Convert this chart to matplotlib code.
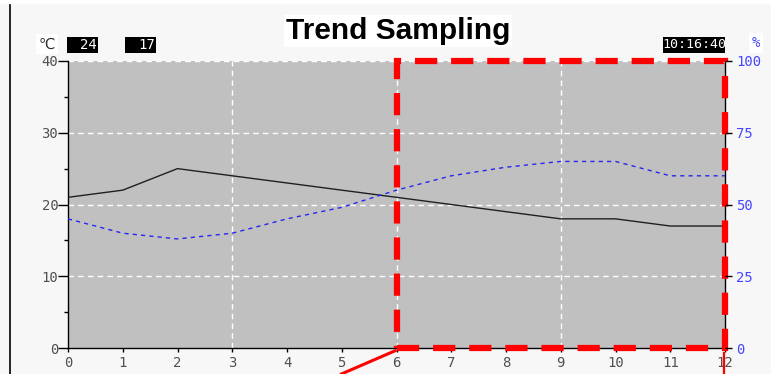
import matplotlib
matplotlib.use("Agg")
import matplotlib.pyplot as plt
from matplotlib.patches import Rectangle
from matplotlib.lines import Line2D

plt.rcParams['lines.scale_dashes'] = False

# sample index 0..12
samples = list(range(13))
temp_c = [21, 22, 25, 24, 23, 22, 21, 20, 19, 18, 18, 17, 17]
humid_pct = [45, 40, 38, 40, 45, 49, 55, 60, 63, 65, 65, 60, 60]
temp_ticks = [0, 10, 20, 30, 40]
pct_ticks = [0, 25, 50, 75, 100]
readouts = ['24', '17']
clock = '10:16:40'

W, H = 771, 374
fig = plt.figure(figsize=(W / 100, H / 100), dpi=100, facecolor='#f7f7f7')
ax = fig.add_axes([68 / W, (H - 348) / H, (725 - 68) / W, (348 - 61) / H])
ax.set_facecolor('#c0c0c0')

mono = 'DejaVu Sans Mono'
lab = '#505050'

ax.plot(samples, temp_c, color='#202020', lw=1.0, zorder=3)
ax.set_xlim(0, 12)
ax.set_ylim(0, 40)
ax.set_xticks(samples)
ax.set_yticks(temp_ticks)
ax.set_yticks(range(5, 40, 10), minor=True)
ax.tick_params(axis='y', which='major', length=7, width=1, direction='out', pad=0,
               labelsize=10, labelcolor=lab)
ax.tick_params(axis='y', which='minor', length=3, width=1, direction='out')
ax.tick_params(axis='x', length=3, width=1, direction='out', pad=3,
               labelsize=10, labelcolor=lab)
for t in ax.get_xticklabels() + ax.get_yticklabels():
    t.set_family(mono)

for v in [3, 6, 9]:
    ax.axvline(v, color='white', lw=1, ls=(0, (4, 3)), zorder=1)
for v in [10, 20, 30, 40]:
    ax.axhline(v, color='white', lw=1, ls=(0, (4, 3)), zorder=1, clip_on=False)

for s in ['left', 'bottom', 'right']:
    ax.spines[s].set_color('black')
    ax.spines[s].set_linewidth(1)
ax.spines['top'].set_visible(False)

ax2 = ax.twinx()
ax2.plot(samples, humid_pct, color='#2626f0', lw=1.0, ls=(0, (3, 3)), zorder=3)
ax2.set_ylim(0, 100)
ax2.set_yticks(pct_ticks)
ax2.tick_params(axis='y', length=5, width=1, direction='out', pad=3,
                labelsize=10, labelcolor='#4646ff')
for t in ax2.get_yticklabels():
    t.set_family(mono)
for s in ax2.spines.values():
    s.set_visible(False)

# red selection box and pointers
ax.add_patch(Rectangle((6, 0), 6, 40, fill=False, ec='#ff0000', lw=4.5,
                       ls=(0, (16, 10)), clip_on=False, zorder=5))
ax.plot([4.97, 6.0], [-3.7, -0.3], color='#ff0000', lw=2.2, clip_on=False,
        zorder=5, solid_capstyle='butt')
ax.plot([11.98, 11.98], [-0.5, -3.8], color='#ff0000', lw=1.6, clip_on=False,
        zorder=5, solid_capstyle='butt')

# header
fig.patches.append(Rectangle((0, (H - 4) / H), 1, 4 / H, transform=fig.transFigure,
                             fc='white', ec='none'))
fig.add_artist(Line2D([9.5 / W, 9.5 / W], [0, (H - 5) / H], color='black', lw=1.2))

fig.text(398 / W, 1 - 31 / H, 'Trend Sampling', ha='center', va='center',
         family='Liberation Sans', weight='bold', fontsize=21.5,
         bbox=dict(fc='white', ec='none', pad=1.5))
fig.text(47 / W, 1 - 44 / H, '\u2103', ha='center', va='center', fontsize=10.5,
         color='#303030', bbox=dict(fc='white', ec='none', pad=2))
fig.text(756 / W, 1 - 43 / H, '%', ha='center', va='center', fontsize=10,
         family=mono, color='#4646ff', bbox=dict(fc='white', ec='none', pad=2))

for x0, txt in zip([67, 125], readouts):
    fig.patches.append(Rectangle((x0 / W, 1 - 53 / H), 31 / W, 16 / H,
                                 transform=fig.transFigure, fc='black', ec='none'))
    fig.text((x0 + 30) / W, 1 - 45 / H, txt, ha='right', va='center',
             family=mono, fontsize=10, color='white')
fig.patches.append(Rectangle((663 / W, 1 - 53 / H), 62 / W, 16 / H,
                             transform=fig.transFigure, fc='black', ec='none'))
fig.text(694 / W, 1 - 45 / H, clock, ha='center', va='center',
         family=mono, fontsize=9.6, color='white')

fig.savefig('out.png', dpi=100, facecolor=fig.get_facecolor())
